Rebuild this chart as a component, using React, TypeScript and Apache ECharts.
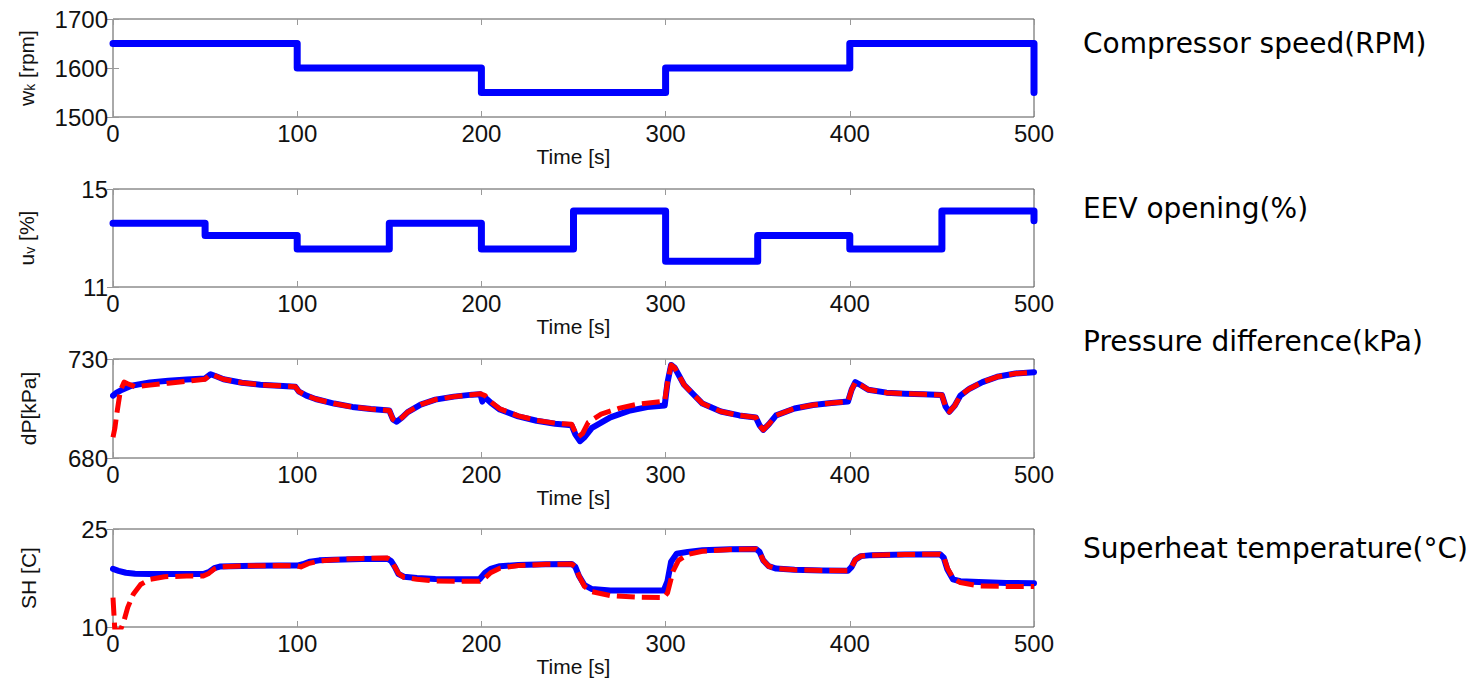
import React, { useEffect, useRef } from "react";
import * as echarts from "echarts";

// ---------- data ----------
// Compressor speed (step changes)
const speedTime = [0, 100, 200, 300, 400, 500];
const speedValue = [1650, 1600, 1550, 1600, 1650, 1550];

// EEV opening (step changes)
const eevTime = [0, 50, 100, 150, 200, 250, 300, 350, 400, 450, 500];
const eevValue = [13.6, 13.1, 12.55, 13.6, 12.55, 14.1, 12.05, 13.1, 12.55, 14.1, 13.7];

// Pressure difference - measured (blue)
const dpTime = [0, 2, 5, 10, 20, 30, 40, 50, 53, 56, 60, 70, 80, 90, 99, 101, 105, 110, 120, 130, 140, 150, 152, 154, 157, 160, 167, 175, 185, 195, 199.5, 200.5, 201.5, 205, 210, 220, 230, 240, 249, 251, 253.5, 256, 260, 270, 280, 290, 299.5, 301, 303, 305, 310, 320, 330, 340, 349, 351, 353, 356, 360, 370, 380, 390, 399, 401, 403, 406, 410, 420, 430, 440, 450, 452, 454, 457, 460, 465, 472, 480, 490, 500];
const dpMeasured = [711.5, 713, 714.5, 716.5, 718.2, 719, 719.6, 720.2, 722.3, 721.3, 719.8, 718, 717, 716.5, 716, 713.5, 711.5, 709.8, 707.5, 705.8, 704.7, 704, 699.5, 698.3, 700.5, 703.2, 707, 709.5, 711, 712, 712.2, 708.5, 711, 708, 704.5, 701, 698.8, 697.3, 696.5, 692, 688.5, 690.5, 695.2, 700.5, 703.8, 705.7, 706.5, 718, 727, 725.5, 717, 707.5, 703.5, 701.5, 700.5, 696.5, 694.2, 697, 701.5, 705, 706.8, 707.8, 708.5, 714.5, 718.3, 716.8, 714.5, 713, 712.5, 712.2, 711.8, 706, 703.3, 706.5, 711.5, 715, 718.3, 721, 722.7, 723.3];

// Pressure difference - model (red dashed)
const dpModelTime = [0, 1, 2, 4, 6, 8, 12, 20, 30, 40, 50, 53, 56, 60, 70, 80, 90, 99, 101, 105, 110, 120, 130, 140, 150, 152, 154, 157, 160, 167, 175, 185, 195, 199.5, 202, 205, 210, 220, 230, 240, 249, 251, 252.5, 255, 258, 265, 275, 285, 299.5, 301, 303, 305, 310, 320, 330, 340, 349, 351, 353, 356, 360, 370, 380, 390, 399, 401, 403, 406, 410, 420, 430, 440, 450, 452, 454, 457, 460, 465, 472, 480, 490, 500];
const dpModel = [690.5, 695, 702, 714, 718.3, 717.5, 716, 716.8, 717.8, 718.8, 719.8, 722.3, 721.3, 719.8, 718, 717, 716.5, 716, 713.5, 711.5, 709.8, 707.5, 705.8, 704.7, 704, 699.5, 698.3, 700.5, 703.2, 707, 709.5, 711, 712, 712.4, 711.5, 708.5, 704.8, 701.3, 699, 697.6, 697, 693, 690.5, 692.5, 698, 702.2, 705.2, 707.2, 708.7, 718, 727, 725.5, 717, 707.5, 703.5, 701.5, 700.5, 696.5, 694.2, 697, 701.5, 705, 706.8, 707.8, 708.5, 714.5, 718.3, 716.8, 714.5, 713, 712.5, 712.2, 711.8, 706, 703.3, 706.5, 711.5, 715, 718.3, 721, 722.7, 723.3];

// Superheat - measured (blue)
const shTime = [0, 3, 7, 12, 20, 30, 49, 52, 55, 58, 70, 90, 100, 103, 107, 112, 120, 135, 149, 151, 153, 155, 158, 165, 175, 190, 199, 202, 205, 210, 220, 235, 249, 251, 253, 256, 260, 270, 285, 299, 301, 303, 306, 312, 320, 335, 349, 351, 353, 356, 360, 370, 385, 399, 401, 403, 406, 412, 430, 449, 451, 453, 456, 460, 470, 485, 500];
const shMeasured = [18.9, 18.6, 18.3, 18.15, 18.1, 18.1, 18.1, 18.4, 19, 19.25, 19.35, 19.4, 19.4, 19.6, 20, 20.2, 20.3, 20.4, 20.45, 20.1, 19.2, 18.1, 17.7, 17.5, 17.35, 17.3, 17.3, 18.3, 18.9, 19.3, 19.5, 19.6, 19.65, 19.2, 17.8, 16.4, 15.8, 15.6, 15.6, 15.6, 17, 20, 21.2, 21.5, 21.75, 21.9, 21.95, 21.5, 20.2, 19.3, 18.95, 18.75, 18.65, 18.6, 19.2, 20.3, 20.85, 21, 21.1, 21.15, 20.6, 18.8, 17.3, 17, 16.9, 16.75, 16.7];

// Superheat - model (red dashed)
const shModelTime = [0, 1, 4, 6, 8, 11, 15, 20, 28, 40, 49, 52, 55, 58, 70, 90, 100, 102, 106, 112, 120, 135, 149, 151, 153, 155, 158, 165, 175, 190, 199, 202, 205, 210, 220, 235, 249, 251, 253, 256, 260, 270, 285, 299, 301, 304, 307, 312, 320, 335, 349, 351, 353, 356, 360, 370, 385, 399, 401, 403, 406, 412, 430, 449, 451, 453, 456, 460, 470, 485, 500];
const shModel = [14.5, 9.5, 9.5, 11, 13, 15, 16.5, 17.3, 17.7, 17.8, 17.8, 18.2, 18.9, 19.2, 19.35, 19.4, 19.35, 19.2, 19.7, 20.1, 20.3, 20.5, 20.55, 20.2, 19.2, 18.2, 17.6, 17.3, 17.05, 17, 17, 17.5, 18.3, 19, 19.4, 19.6, 19.65, 19.2, 17.8, 16.2, 15.4, 14.8, 14.55, 14.5, 15.2, 18.5, 20.2, 21.1, 21.6, 21.85, 21.95, 21.5, 20.2, 19.3, 18.95, 18.75, 18.65, 18.6, 19.2, 20.3, 20.85, 21, 21.1, 21.15, 20.7, 19, 17.5, 16.8, 16.3, 16.2, 16.2];

// axes
const yMins = [1500, 11, 680, 10];
const yMaxs = [1700, 15, 730, 25];
const yTickLabels = [[1500, 1600, 1700], [11, 15], [680, 730], [10, 25]];
const yNames = ["{m|w}{s|k}{m| [rpm]}", "{m|u}{s|v}{m| [%]}", "{m|dP[kPa]}", "{m|SH [C]}"];
const xName = "Time [s]";
const titles = [
  "Compressor speed(RPM)",
  "EEV opening(%)",
  "Pressure difference(kPa)",
  "Superheat temperature(°C)",
];

// ---------- layout ----------
const gridTops = [19, 189, 359, 529];
const gridHeights = [98, 98, 99, 98];
const titleTops = [29, 194, 327, 534];
const yNameX = [26, 26, 28, 28];

const FONT = "'Liberation Sans', Arial, Helvetica, sans-serif";
const NAME_FONT = "'Liberation Sans Narrow', 'Arial Narrow', 'Liberation Sans', Arial, sans-serif";
const BLUE = "#0000ff";
const RED = "#ff0000";

const pairs = (xs: number[], ys: number[]) => xs.map((x, i) => [x, ys[i]]);

export default function App() {
  const ref = useRef<HTMLDivElement>(null);

  useEffect(() => {
    if (!ref.current) return;
    const chart = echarts.init(ref.current, undefined, { renderer: "svg" });

    const grid = gridTops.map((top, i) => ({
      left: 113,
      top,
      width: 921,
      height: gridHeights[i],
      show: true,
      borderColor: "#555",
      borderWidth: 1,
      backgroundColor: "transparent",
    }));

    const tick = { show: true, inside: true, length: 6, lineStyle: { color: "#999", width: 1 } };
    const xAxis: any[] = [];
    const yAxis: any[] = [];
    for (let i = 0; i < 4; i++) {
      xAxis.push({
        type: "value",
        gridIndex: i,
        min: 0,
        max: 500,
        interval: 100,
        axisLine: { show: false },
        axisTick: tick,
        axisLabel: { show: true, fontSize: 24, fontFamily: FONT, color: "#111", margin: 4 },
        splitLine: { show: false },
        name: xName,
        nameLocation: "middle",
        nameGap: 29,
        nameTextStyle: { fontSize: 21, fontFamily: FONT, color: "#111" },
      });
      xAxis.push({
        type: "value",
        gridIndex: i,
        position: "top",
        min: 0,
        max: 500,
        interval: 100,
        axisLine: { show: false },
        axisTick: tick,
        axisLabel: { show: false },
        splitLine: { show: false },
      });
      yAxis.push({
        type: "value",
        gridIndex: i,
        min: yMins[i],
        max: yMaxs[i],
        axisLine: { show: false },
        axisTick: { ...tick, customValues: yTickLabels[i] },
        axisLabel: {
          show: true,
          customValues: yTickLabels[i],
          formatter: (v: number) => String(v),
          fontSize: 24,
          fontFamily: FONT,
          color: "#111",
          margin: 5,
        },
        splitLine: { show: false },
      });
      yAxis.push({
        type: "value",
        gridIndex: i,
        position: "right",
        min: yMins[i],
        max: yMaxs[i],
        axisLine: { show: false },
        axisTick: { ...tick, customValues: yTickLabels[i] },
        axisLabel: { show: false, customValues: yTickLabels[i] },
        splitLine: { show: false },
      });
    }

    const blue = (xi: number, yi: number, data: number[][], step?: any, w = 6) => ({
      type: "line",
      xAxisIndex: xi,
      yAxisIndex: yi,
      data,
      step,
      showSymbol: false,
      symbol: "none",
      lineStyle: { color: BLUE, width: w, cap: "round", join: "round" },
      z: 2,
    });
    const red = (xi: number, yi: number, data: number[][]) => ({
      type: "line",
      xAxisIndex: xi,
      yAxisIndex: yi,
      data,
      showSymbol: false,
      symbol: "none",
      lineStyle: { color: RED, width: 5, type: [18, 7], join: "round" },
      z: 3,
    });

    const series = [
      blue(0, 0, pairs(speedTime, speedValue), "end", 7),
      blue(2, 2, pairs(eevTime, eevValue), "end", 7),
      blue(4, 4, pairs(dpTime, dpMeasured)),
      red(4, 4, pairs(dpModelTime, dpModel)),
      blue(6, 6, pairs(shTime, shMeasured)),
      red(6, 6, pairs(shModelTime, shModel)),
    ];

    const graphic: any[] = titles.map((t, i) => ({
      type: "text",
      left: 1083,
      top: titleTops[i],
      style: { text: t, fontSize: 28, fontFamily: "'DejaVu Sans', Verdana, sans-serif", fill: "#000" },
    }));
    yNames.forEach((n, i) => {
      graphic.push({
        type: "text",
        x: yNameX[i],
        y: gridTops[i] + gridHeights[i] / 2,
        rotation: Math.PI / 2,
        style: {
          text: n,
          fontSize: 21,
          fontFamily: NAME_FONT,
          fill: "#111",
          align: "center",
          verticalAlign: "middle",
          rich: {
            m: { fontSize: 21, fontFamily: NAME_FONT, fill: "#111", lineHeight: 22 },
            s: {
              fontSize: 14,
              fontFamily: NAME_FONT,
              fill: "#111",
              lineHeight: 14,
              padding: [14, 0, 0, 0],
              verticalAlign: "bottom",
            },
          },
        },
      });
    });

    chart.setOption({
      animation: false,
      backgroundColor: "#fff",
      grid,
      xAxis,
      yAxis,
      series,
      graphic,
    });

    return () => chart.dispose();
  }, []);

  return (
    <div
      ref={ref}
      style={{ position: "fixed", left: 0, top: 0, width: 1480, height: 680, background: "#fff" }}
    />
  );
}
